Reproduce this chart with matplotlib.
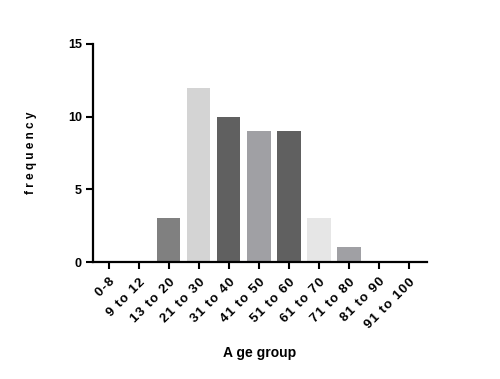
import matplotlib
matplotlib.use("Agg")
import matplotlib.pyplot as plt

categories = ["0-8", "9 to 12", "13 to 20", "21 to 30", "31 to 40", "41 to 50",
              "51 to 60", "61 to 70", "71 to 80", "81 to 90", "91 to 100"]
values = [0, 0, 3, 12, 10, 9, 9, 3, 1, 0, 0]
colors = ["#808080", "#808080", "#808080", "#d4d4d4", "#606060", "#a0a0a4",
          "#606060", "#e6e6e6", "#a0a0a4", "#808080", "#808080"]

plt.rcParams['font.family'] = ['Liberation Sans', 'DejaVu Sans']
fig = plt.figure(figsize=(5, 3.79), dpi=100)
ax = fig.add_axes([0.186, 0.3087, 0.668, 0.5753])
x = list(range(len(categories)))
ax.bar(x, values, width=0.77, color=colors)
ax.set_xlim(-0.53, 10.6)
ax.set_ylim(0, 15)
ax.set_yticks([0, 5, 10, 15])
ax.set_xticks(x)
spaced = ["\u200a".join(c) for c in categories]
ax.set_xticklabels(spaced, rotation=45,
                   ha="right", va="top", rotation_mode="anchor", fontsize=9.5, fontweight="bold")
for lab in ax.get_yticklabels():
    lab.set_fontsize(9)
    lab.set_fontweight("bold")
for s in ["top", "right"]:
    ax.spines[s].set_visible(False)
for s in ["left", "bottom"]:
    ax.spines[s].set_linewidth(1.6)
ax.tick_params(axis="both", direction="out", length=5, width=1.5, pad=3)
ax.tick_params(axis="x", pad=5)
ax.set_ylabel("f r e q u e n c y", fontsize=8.5, fontweight="bold", labelpad=22)
ax.set_xlabel("A ge group", fontsize=10, fontweight="bold", labelpad=11)
fig.savefig("out.png", dpi=100)
